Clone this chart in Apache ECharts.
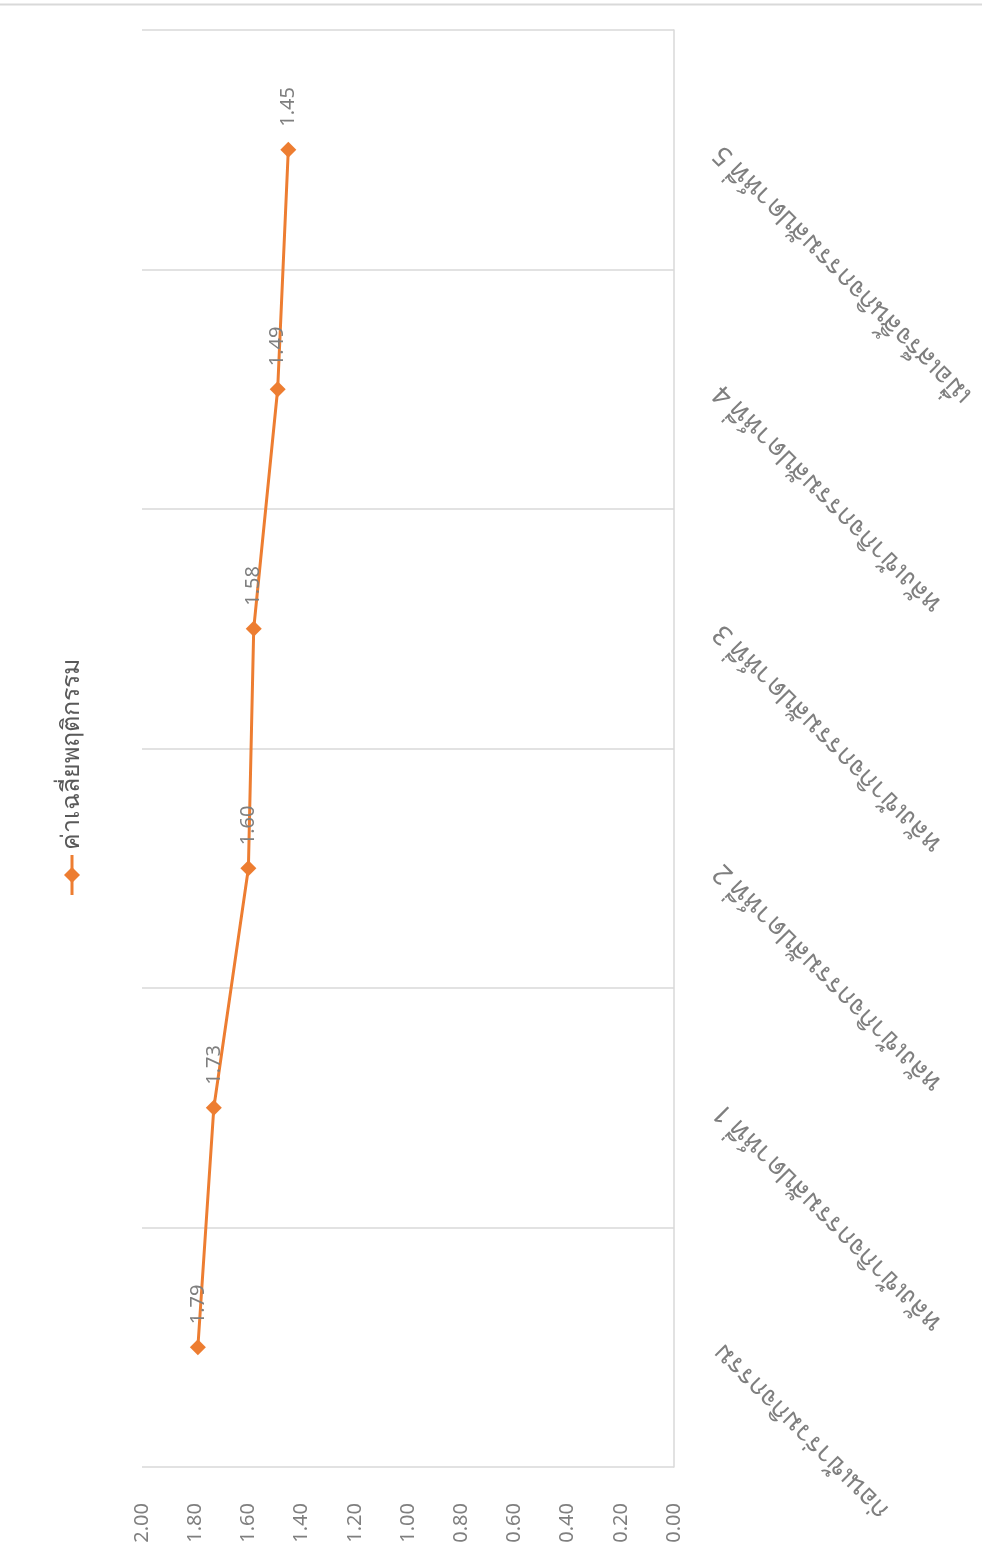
<!DOCTYPE html>
<html>
<head>
<meta charset="utf-8">
<script src="https://cdn.jsdelivr.net/npm/echarts@6/dist/echarts.min.js"></script>
<style>
	html, body { margin: 0; padding: 0; background: #fff; }
	#chart { width: 982px; height: 1564px; }
</style>
</head>
<body>
<div id="chart"></div>
<script>
const categories = [
	'ก่อนเข้าร่วมกิจกรรม',
	'หลังเข้ากิจกรรมสัปดาห์ที่ 1',
	'หลังเข้ากิจกรรมสัปดาห์ที่ 2',
	'หลังเข้ากิจกรรมสัปดาห์ที่ 3',
	'หลังเข้ากิจกรรมสัปดาห์ที่ 4',
	'เมื่อเสร็จสิ้นกิจกรรมสัปดาห์ที่ 5'
]
const seriesName = 'ค่าเฉลี่ยพฤติกรรม'
const values = [1.79, 1.73, 1.60, 1.58, 1.49, 1.45]

const font = '"Noto Sans", sans-serif'
const orange = '#ed7d31'
const gray = '#7f7f7f'
const line = '#d9d9d9'

const chart = echarts.init(document.getElementById('chart'))
chart.setOption({
	backgroundColor: '#fff',
	animation: false,
	textStyle: { fontFamily: font },
	grid: { left: 142, right: 308, top: 30, bottom: 97, containLabel: false, outerBoundsMode: 'none' },
	xAxis: {
		type: 'value',
		min: 0,
		max: 2,
		interval: 0.2,
		inverse: true,
		position: 'bottom',
		axisLine: { show: false },
		axisTick: { show: false },
		splitLine: { show: false },
		axisLabel: {
			rotate: 90,
			margin: 36,
			color: gray,
			fontSize: 20,
			fontFamily: font,
			formatter: v => v.toFixed(2)
		}
	},
	yAxis: {
		type: 'category',
		data: categories,
		position: 'right',
		boundaryGap: true,
		axisLine: { show: true, lineStyle: { color: line, width: 1.5 } },
		axisTick: { show: false },
		splitLine: { show: true, lineStyle: { color: line, width: 1.5 } },
		axisLabel: {
			rotate: 135,
			align: 'right',
			verticalAlign: 'middle',
			margin: 44,
			color: gray,
			fontSize: 27,
			fontFamily: font
		}
	},
	series: [{
		name: seriesName,
		type: 'line',
		data: values,
		symbol: 'diamond',
		symbolSize: 16,
		color: orange,
		lineStyle: { color: orange, width: 3 },
		itemStyle: { color: orange },
		label: {
			show: true,
			position: 'top',
			distance: 15,
			rotate: 90,
			align: 'left',
			verticalAlign: 'middle',
			color: gray,
			fontSize: 20,
			fontFamily: font,
			formatter: p => p.value.toFixed(2)
		}
	}],
	graphic: [
		{
			type: 'line',
			shape: { x1: 0, y1: 4.5, x2: 982, y2: 4.5 },
			style: { stroke: line, lineWidth: 2 }
		},
		{
			type: 'group',
			x: 72,
			y: 875,
			rotation: Math.PI / 2,
			children: [
				{
					type: 'line',
					shape: { x1: -20, y1: 0, x2: 20, y2: 0 },
					style: { stroke: orange, lineWidth: 3 }
				},
				{
					type: 'polygon',
					shape: { points: [[-8, 0], [0, -8], [8, 0], [0, 8]] },
					style: { fill: orange }
				},
				{
					type: 'text',
					x: 25,
					y: 0,
					style: {
						text: seriesName,
						fill: '#595959',
						font: '25px ' + font,
						align: 'left',
						verticalAlign: 'middle'
					}
				}
			]
		}
	]
})
</script>
</body>
</html>
